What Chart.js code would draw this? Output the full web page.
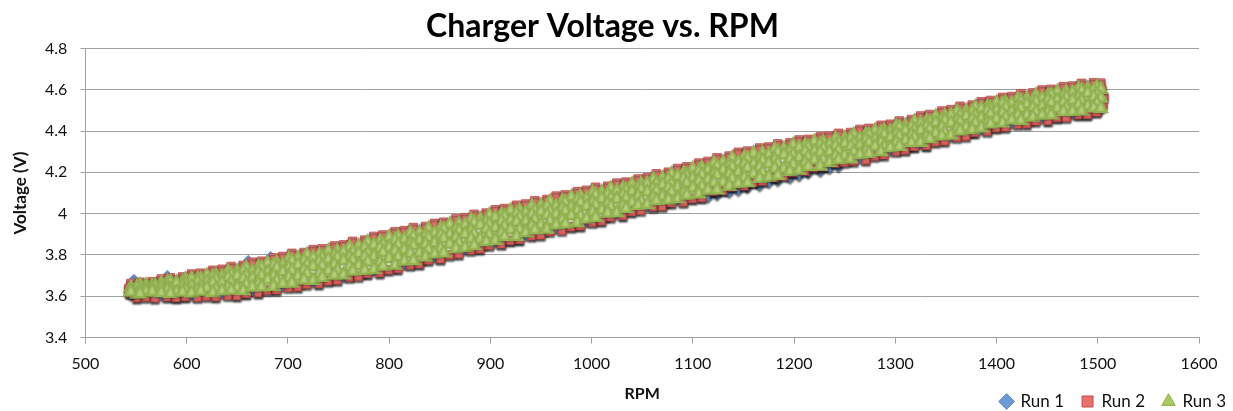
<!DOCTYPE html>
<html>
<head>
<meta charset="utf-8">
<title>Charger Voltage vs. RPM</title>
<script src="https://cdn.jsdelivr.net/npm/chart.js@4.4.1/dist/chart.umd.min.js"></script>
<style>
  html, body { margin: 0; padding: 0; background: #fff; }
  canvas { display: block; }
</style>
</head>
<body>
<canvas id="chart" width="1233" height="411"></canvas>
<script>
// rpm steps logged on the two sweeps
const rpmA = [545,554,566,575,584,596,605,614,626,635,644,656,665,674,686,695,704,716,725,734,
  746,755,764,776,785,794,806,815,824,836,845,854,866,875,884,896,905,914,926,935,
  944,956,965,974,986,995,1004,1016,1025,1034,1046,1055,1064,1076,1085,1094,1106,1115,1124,1136,
  1145,1154,1166,1175,1184,1196,1205,1214,1226,1235,1244,1256,1265,1274,1286,1295,1304,1316,1325,1334,
  1346,1355,1364,1376,1385,1394,1406,1415,1424,1436,1445,1454,1466,1475,1484,1496,1503];
const rpmB = [551,560,569,581,590,599,611,620,629,641,650,659,671,680,689,701,710,719,731,740,
  749,761,770,779,791,800,809,821,830,839,851,860,869,881,890,899,911,920,929,941,
  950,959,971,980,989,1001,1010,1019,1031,1040,1049,1061,1070,1079,1091,1100,1109,1121,1130,1139,
  1151,1160,1169,1181,1190,1199,1211,1220,1229,1241,1250,1259,1271,1280,1289,1301,1310,1319,1331,1340,
  1349,1361,1370,1379,1391,1400,1409,1421,1430,1439,1451,1460,1469,1481,1490,1499];

// Run 1 (volts at rpmA)
const run1Volt = [3.605,3.604,3.606,3.604,3.607,3.606,3.605,3.609,3.610,3.612,
  3.614,3.619,3.625,3.634,3.640,3.647,3.653,3.663,3.669,3.678,
  3.686,3.694,3.704,3.712,3.723,3.730,3.741,3.753,3.764,3.778,
  3.789,3.800,3.813,3.825,3.837,3.849,3.861,3.872,3.884,3.894,
  3.905,3.916,3.927,3.939,3.948,3.960,3.972,3.984,3.998,4.010,
  4.024,4.034,4.046,4.055,4.066,4.074,4.086,4.080,4.091,4.104,
  4.113,4.126,4.136,4.150,4.160,4.173,4.184,4.197,4.206,4.219,
  4.228,4.256,4.268,4.281,4.291,4.304,4.316,4.327,4.338,4.349,
  4.360,4.371,4.383,4.395,4.407,4.419,4.429,4.437,4.445,4.453,
  4.461,4.469,4.476,4.483,4.490,4.497,4.500];
const run1ExtraRpm = [548, 581, 661, 683];
const run1ExtraVolt = [3.684, 3.703, 3.776, 3.795];

// Run 2 (upper sweep at rpmA, lower sweep at rpmB)
const run2Upper = [3.662,3.668,3.671,3.684,3.690,3.694,3.708,3.712,3.726,3.731,
  3.744,3.750,3.765,3.770,3.786,3.793,3.808,3.812,3.826,3.830,
  3.844,3.849,3.866,3.872,3.890,3.897,3.913,3.918,3.933,3.938,
  3.953,3.959,3.975,3.981,3.997,4.003,4.019,4.025,4.041,4.047,
  4.063,4.069,4.085,4.091,4.107,4.113,4.128,4.133,4.148,4.153,
  4.168,4.175,4.193,4.201,4.219,4.227,4.245,4.253,4.271,4.279,
  4.297,4.303,4.318,4.323,4.338,4.343,4.357,4.360,4.373,4.376,
  4.389,4.393,4.408,4.413,4.428,4.433,4.449,4.456,4.473,4.480,
  4.497,4.504,4.520,4.526,4.542,4.548,4.563,4.567,4.581,4.585,
  4.599,4.602,4.615,4.618,4.631,4.634,4.632];
const run2Lower = [3.594,3.597,3.593,3.598,3.595,3.599,3.596,3.601,3.599,3.605,
  3.604,3.614,3.618,3.630,3.632,3.644,3.646,3.659,3.662,3.675,
  3.679,3.693,3.697,3.711,3.715,3.729,3.735,3.752,3.758,3.776,
  3.782,3.800,3.806,3.824,3.830,3.848,3.854,3.871,3.876,3.893,
  3.898,3.915,3.920,3.937,3.942,3.959,3.966,3.985,3.992,4.011,
  4.017,4.033,4.037,4.053,4.057,4.074,4.079,4.108,4.113,4.130,
  4.135,4.152,4.158,4.176,4.182,4.200,4.206,4.223,4.228,4.245,
  4.250,4.255,4.261,4.279,4.285,4.303,4.309,4.326,4.331,4.348,
  4.353,4.370,4.376,4.394,4.400,4.417,4.420,4.434,4.436,4.450,
  4.452,4.466,4.467,4.480,4.481,4.493];
const run2ExtraRpm = [543, 544, 1504, 1506, 1505];
const run2ExtraVolt = [3.638, 3.615, 4.600, 4.565, 4.530];

// Run 3 (six passes through the band, top to bottom; odd passes at rpmB, even at rpmA)
const run3Pass1 = [3.640,3.652,3.650,3.668,3.665,3.681,3.684,3.700,3.702,3.719,
  3.720,3.738,3.742,3.760,3.762,3.781,3.783,3.800,3.801,3.818,
  3.820,3.838,3.842,3.862,3.866,3.886,3.888,3.906,3.907,3.926,
  3.929,3.948,3.950,3.970,3.973,3.992,3.995,4.014,4.016,4.036,
  4.039,4.058,4.061,4.080,4.083,4.101,4.103,4.121,4.123,4.141,
  4.144,4.165,4.170,4.191,4.196,4.217,4.222,4.243,4.248,4.269,
  4.273,4.291,4.293,4.311,4.313,4.331,4.331,4.347,4.347,4.363,
  4.364,4.381,4.383,4.401,4.403,4.422,4.425,4.445,4.449,4.469,
  4.473,4.493,4.496,4.515,4.518,4.536,4.538,4.555,4.556,4.573,
  4.573,4.589,4.589,4.605,4.606,4.612];
const run3Pass2 = [3.641,3.654,3.649,3.662,3.670,3.667,3.684,3.683,3.695,3.694,
  3.704,3.720,3.719,3.737,3.749,3.751,3.771,3.771,3.785,3.786,
  3.797,3.814,3.815,3.834,3.847,3.850,3.871,3.874,3.889,3.892,
  3.904,3.923,3.924,3.943,3.956,3.959,3.981,3.984,4.000,4.003,
  4.016,4.035,4.035,4.054,4.067,4.070,4.090,4.093,4.109,4.111,
  4.124,4.144,4.145,4.165,4.180,4.184,4.206,4.211,4.228,4.233,
  4.247,4.266,4.266,4.284,4.297,4.299,4.319,4.320,4.334,4.334,
  4.345,4.363,4.362,4.381,4.393,4.396,4.417,4.421,4.437,4.441,
  4.455,4.475,4.475,4.494,4.507,4.511,4.531,4.531,4.545,4.546,
  4.557,4.573,4.569,4.585,4.595,4.595,4.601];
const run3Pass3 = [3.643,3.638,3.649,3.646,3.663,3.658,3.670,3.668,3.681,3.690,
  3.698,3.698,3.714,3.715,3.738,3.738,3.751,3.752,3.767,3.778,
  3.788,3.790,3.806,3.809,3.833,3.835,3.850,3.853,3.870,3.884,
  3.896,3.898,3.916,3.919,3.944,3.946,3.962,3.965,3.982,3.996,
  4.008,4.010,4.027,4.030,4.054,4.056,4.072,4.075,4.092,4.106,
  4.119,4.121,4.139,4.143,4.168,4.171,4.189,4.193,4.211,4.226,
  4.239,4.240,4.257,4.260,4.284,4.285,4.300,4.301,4.316,4.328,
  4.339,4.340,4.357,4.359,4.383,4.385,4.402,4.405,4.423,4.438,
  4.450,4.453,4.470,4.474,4.498,4.499,4.514,4.515,4.529,4.541,
  4.550,4.549,4.563,4.562,4.583,4.577];
const run3Pass4 = [3.623,3.636,3.632,3.641,3.636,3.649,3.649,3.650,3.665,3.665,
  3.667,3.684,3.686,3.700,3.699,3.718,3.723,3.726,3.745,3.747,
  3.753,3.772,3.775,3.790,3.792,3.812,3.819,3.825,3.846,3.851,
  3.859,3.880,3.884,3.900,3.903,3.924,3.932,3.938,3.959,3.964,
  3.972,3.993,3.996,4.012,4.014,4.035,4.042,4.048,4.070,4.075,
  4.084,4.105,4.109,4.125,4.128,4.149,4.157,4.164,4.186,4.192,
  4.201,4.222,4.225,4.241,4.243,4.264,4.271,4.275,4.295,4.298,
  4.305,4.325,4.328,4.344,4.346,4.367,4.375,4.381,4.403,4.408,
  4.417,4.438,4.442,4.458,4.461,4.482,4.488,4.492,4.510,4.513,
  4.518,4.536,4.536,4.548,4.547,4.564,4.559];
const run3Pass5 = [3.610,3.622,3.618,3.630,3.620,3.631,3.631,3.639,3.634,3.643,
  3.641,3.658,3.661,3.679,3.674,3.691,3.696,3.709,3.709,3.723,
  3.725,3.744,3.748,3.767,3.764,3.783,3.791,3.807,3.810,3.827,
  3.831,3.852,3.858,3.878,3.877,3.898,3.906,3.922,3.924,3.941,
  3.945,3.965,3.970,3.990,3.988,4.008,4.017,4.034,4.037,4.055,
  4.059,4.079,4.084,4.104,4.102,4.123,4.132,4.149,4.152,4.169,
  4.174,4.193,4.199,4.219,4.217,4.237,4.245,4.260,4.261,4.277,
  4.280,4.299,4.304,4.325,4.323,4.344,4.353,4.369,4.371,4.389,
  4.393,4.413,4.419,4.439,4.438,4.458,4.464,4.477,4.477,4.491,
  4.492,4.509,4.511,4.527,4.521,4.535];
const run3Pass6 = [3.621,3.613,3.623,3.617,3.614,3.621,3.616,3.625,3.617,3.626,
  3.630,3.627,3.644,3.645,3.648,3.662,3.664,3.679,3.677,3.692,
  3.702,3.704,3.722,3.725,3.730,3.746,3.751,3.770,3.772,3.791,
  3.805,3.810,3.831,3.837,3.845,3.864,3.871,3.889,3.890,3.908,
  3.921,3.925,3.945,3.950,3.957,3.975,3.982,4.002,4.005,4.025,
  4.040,4.044,4.063,4.067,4.073,4.090,4.096,4.114,4.115,4.133,
  4.146,4.150,4.171,4.177,4.185,4.204,4.211,4.229,4.230,4.248,
  4.261,4.265,4.286,4.292,4.300,4.319,4.326,4.344,4.345,4.363,
  4.376,4.380,4.401,4.407,4.415,4.434,4.439,4.454,4.452,4.467,
  4.477,4.478,4.494,4.495,4.498,4.512,4.510];

const runNames = ['Run 1', 'Run 2', 'Run 3'];

const pts = (xs, ys) => ys.map((v, i) => ({ x: xs[i], y: v }));

// vertical gradient per marker, light on top, darker underneath
function markerFill(light, dark) {
  return (c) => {
    const ys = c.chart.scales.y;
    if (c.type !== 'data' || !ys || !c.parsed) return dark;
    const py = ys.getPixelForValue(c.parsed.y);
    if (!Number.isFinite(py)) return dark;
    const g = c.chart.ctx.createLinearGradient(0, py - 7, 0, py + 5);
    g.addColorStop(0, light);
    g.addColorStop(1, dark);
    return g;
  };
}

const legendFill = ['#6d9ad6', '#e8716d', '#a7cb5e'];
const legendStroke = ['#4a7ebb', '#be4b48', '#8cae4a'];
const shadows = [
  { color: 'rgba(0,0,0,0.6)', blur: 2, dy: 2 },
  { color: 'rgba(0,0,0,0.8)', blur: 2, dy: 2 },
  { color: 'rgba(0,0,0,0.2)', blur: 2, dy: 1 }
];

const markerShadow = {
  id: 'markerShadow',
  beforeDatasetDraw(chart, args) {
    const s = shadows[args.index];
    const ctx = chart.ctx;
    ctx.save();
    ctx.shadowColor = s.color;
    ctx.shadowBlur = s.blur;
    ctx.shadowOffsetY = s.dy;
  },
  afterDatasetDraw(chart) {
    chart.ctx.restore();
  }
};

// legend sits to the right of the axis title, flush with the canvas edge
const legendNudge = {
  id: 'legendNudge',
  afterLayout(chart) {
    const lg = chart.legend;
    lg.left += 45;
    lg.right += 45;
  }
};

new Chart(document.getElementById('chart'), {
  type: 'scatter',
  data: {
    datasets: [
      {
        label: runNames[0],
        data: [...pts(rpmA, run1Volt), ...pts(run1ExtraRpm, run1ExtraVolt)],
        pointStyle: 'rectRot',
        pointRadius: 4.6,
        backgroundColor: markerFill('#8db3e6', '#4f81bd'),
        borderColor: '#4a7ebb',
        borderWidth: 0.8,
        order: 3
      },
      {
        label: runNames[1],
        data: [...pts(rpmA, run2Upper), ...pts(rpmB, run2Lower), ...pts(run2ExtraRpm, run2ExtraVolt)],
        pointStyle: 'rect',
        pointRadius: 6,
        backgroundColor: markerFill('#f29a96', '#d9534f'),
        borderColor: '#be4b48',
        borderWidth: 0.8,
        order: 2
      },
      {
        label: runNames[2],
        data: [
          ...pts(rpmB, run3Pass1), ...pts(rpmA, run3Pass2), ...pts(rpmB, run3Pass3),
          ...pts(rpmA, run3Pass4), ...pts(rpmB, run3Pass5), ...pts(rpmA, run3Pass6)
        ],
        pointStyle: 'triangle',
        pointRadius: 7.2,
        backgroundColor: markerFill('#d4e89e', '#a0c259'),
        borderColor: '#93b450',
        borderWidth: 2,
        order: 1
      }
    ]
  },
  options: {
    responsive: false,
    devicePixelRatio: 1,
    animation: false,
    events: [],
    layout: { padding: { left: 6, right: 34, top: 0, bottom: -9 } },
    plugins: {
      title: {
        display: true,
        text: 'Charger Voltage vs. RPM',
        color: '#000',
        font: { family: 'Lato', size: 32, weight: 'bold' },
        padding: { top: 7, bottom: 3 }
      },
      legend: {
        position: 'bottom',
        align: 'end',
        labels: {
          usePointStyle: true,
          boxWidth: 11,
          boxHeight: 11,
          padding: 18,
          color: '#111',
          font: { family: 'Lato', size: 17 },
          sort: (a, b) => a.datasetIndex - b.datasetIndex,
          generateLabels(chart) {
            const items = Chart.defaults.plugins.legend.labels.generateLabels(chart);
            items.forEach((it) => {
              it.fillStyle = legendFill[it.datasetIndex];
              it.strokeStyle = legendStroke[it.datasetIndex];
              it.lineWidth = 1;
            });
            return items;
          }
        }
      },
      tooltip: { enabled: false }
    },
    scales: {
      x: {
        type: 'linear',
        min: 500,
        max: 1600,
        border: { display: true, color: '#a0a0a0', width: 1 },
        grid: { drawOnChartArea: false, drawTicks: true, tickLength: 6, color: '#a0a0a0' },
        ticks: {
          stepSize: 100,
          padding: 11,
          color: '#111',
          font: { family: 'Lato', size: 16 },
          callback: (v) => String(v)
        },
        title: {
          display: true,
          text: 'RPM',
          color: '#111',
          font: { family: 'Lato', size: 16, weight: 'bold' },
          padding: { top: -1, bottom: -28 }
        }
      },
      y: {
        min: 3.4,
        max: 4.8,
        border: { display: true, color: '#a0a0a0', width: 1 },
        grid: { color: '#a0a0a0', lineWidth: 1, tickLength: 5 },
        ticks: {
          stepSize: 0.2,
          padding: 13,
          color: '#111',
          font: { family: 'Lato', size: 16 },
          callback: (v) => String(Number(v.toFixed(1)))
        },
        title: {
          display: true,
          text: 'Voltage (V)',
          color: '#111',
          font: { family: 'Lato', size: 17, weight: 'bold' },
          padding: { top: 4, bottom: 1.6 }
        }
      }
    }
  },
  plugins: [markerShadow, legendNudge]
});
</script>
</body>
</html>
